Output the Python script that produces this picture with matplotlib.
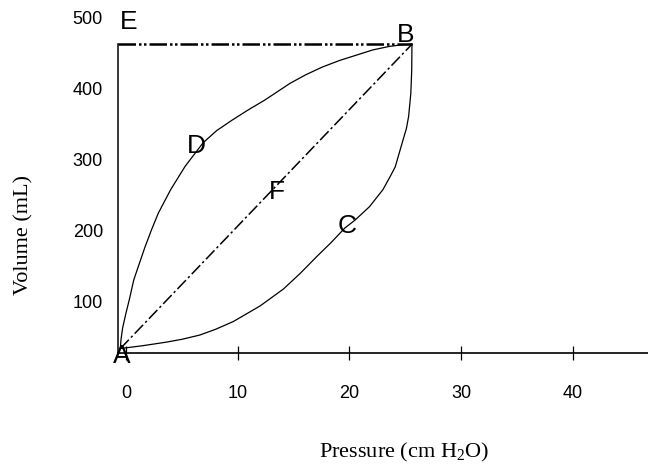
import matplotlib
matplotlib.use('Agg')
from matplotlib import pyplot as plt

plt.rcParams['mathtext.fontset'] = 'custom'
plt.rcParams['mathtext.rm'] = 'Liberation Serif'
plt.rcParams['mathtext.it'] = 'Liberation Serif:italic'

# points (pressure in cm H2O, volume in mL)
point_A = (-0.5, 33)
point_B = (25.6, 462)
axis_x = -0.7          # the drawn volume axis sits a little left of 0
e_level = 463          # level of the E-B line

# inflation limb (D)
pressure_D = [-0.5, -0.45, -0.3, 0.0, 0.3, 0.7, 1.2, 1.7, 2.3, 2.9, 4.0, 5.3,
              6.9, 8.1, 9.5, 11.0, 12.4, 14.7, 16.1, 17.6, 19.1, 20.7,
              22.1, 23.6, 24.6, 25.6]
volume_D = [33, 45, 62, 83, 102, 130, 153, 176, 201, 224, 257, 290,
            323, 340, 355, 370, 383, 407, 419, 430, 439, 447,
            454, 459, 461, 462]

# deflation limb (C)
pressure_C = [25.6, 25.58, 25.5, 25.3, 25.1, 24.8, 24.1, 23.6, 23.0, 21.8,
              20.5, 19.6, 18.4, 17.1, 15.6, 14.1, 12.0, 9.6, 8.0, 6.6,
              5.0, 3.6, 1.5, -0.5]
volume_C = [462, 426, 393, 360, 343, 327, 289, 274, 257, 233,
            214, 203, 183, 163, 139, 117, 93, 71, 60, 52,
            46, 42, 37, 33]

letters = ['A', 'B', 'C', 'D', 'E', 'F']
letter_x = [-0.36, 25.0, 19.8, 6.3, 0.2, 13.5]
letter_y = [22, 475, 206, 318, 493, 254]

x_ticks = [0, 10, 20, 30, 40]
y_ticks = [100, 200, 300, 400, 500]

fig = plt.figure(figsize=(6.48, 4.66), dpi=100)
ax = fig.add_axes([110 / 648, 1 - 353.3 / 466, 1 - 110 / 648, (353.3 - 5) / 466])
ax.set_xlim(-1.43, 46.73)
ax.set_ylim(26.3, 517.3)

# E-B horizontal line
ax.plot([axis_x, point_B[0]], [e_level, e_level], color='black', lw=1.8,
        dashes=(7, 1.2, 1.0, 1.0, 1.0, 1.2))
# vertical axis A-E
ax.plot([axis_x, axis_x], [26.3, e_level], color='black', lw=1.1)
# curves
ax.plot(pressure_D, volume_D, color='black', lw=0.9)
ax.plot(pressure_C, volume_C, color='black', lw=0.9)
# straight line F
ax.plot([point_A[0], point_B[0]], [point_A[1], point_B[1]], color='black',
        lw=1.1, dashes=(8, 2, 1.5, 2))

for name, lx, ly in zip(letters, letter_x, letter_y):
    ax.text(lx, ly, name, ha='center', va='center', fontsize=19,
            family='Liberation Sans', color='black')

for side in ['top', 'right', 'left']:
    ax.spines[side].set_visible(False)
ax.spines['bottom'].set_bounds(axis_x, 46.73)
ax.spines['bottom'].set_linewidth(1.2)

ax.set_xticks(x_ticks)
ax.set_xticklabels([str(t) for t in x_ticks], family='Liberation Sans', fontsize=13)
ax.tick_params(axis='x', direction='inout', length=9.5, width=0.9, pad=18)
ax.set_yticks(y_ticks)
ax.set_yticklabels([str(t) for t in y_ticks], family='Liberation Sans', fontsize=13)
ax.tick_params(axis='y', length=0, pad=5)

fig.text(404 / 648, 1 - 452 / 466, 'Pressure (cm H$_2$O)', ha='center', va='center',
         family='Liberation Serif', fontsize=16)
fig.text(24 / 648, 1 - 235 / 466, 'Volume (mL)', ha='center', va='center',
         rotation=90, family='Liberation Serif', fontsize=16)

fig.savefig('out.png', dpi=100)
